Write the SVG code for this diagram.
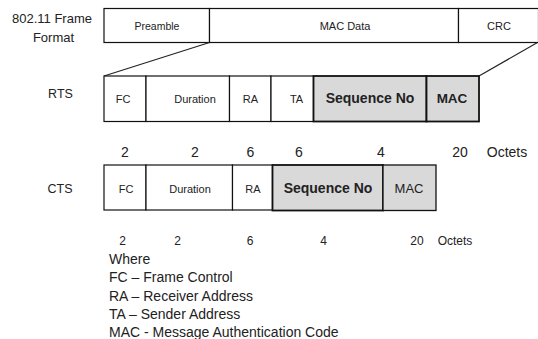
<svg xmlns="http://www.w3.org/2000/svg" width="538" height="339" viewBox="0 0 538 339">
<style>
text{font-family:"Liberation Sans",Arial,sans-serif;fill:#222;}
.c{text-anchor:middle;}
.cell{fill:#fff;stroke:#111;stroke-width:1.2;}
.sh{fill:#d9d9d9;stroke:#111;stroke-width:1.8;}
.hdr{font-size:10.5px;}
.f{font-size:11px;}
.b{font-size:14px;font-weight:bold;}
.lbl{font-size:12.5px;}
.n{font-size:14px;}
.ns{font-size:12px;}
.lg{font-size:14px;}
.ln{stroke:#222;stroke-width:1.1;fill:none;}
</style>
<g id="frame-label">
<text class="c" x="52" y="23" style="font-size:13px">802.11 Frame</text>
<text class="c" x="53.5" y="42" style="font-size:13px">Format</text>
</g>
<g id="frame">
<rect class="cell" x="104" y="8.5" width="105.5" height="34"/>
<rect class="cell" x="209.5" y="8.5" width="249" height="34"/>
<rect class="cell" x="458.5" y="8.5" width="80" height="34"/>
<text class="c hdr" x="157" y="30">Preamble</text>
<text class="c f" x="345" y="30">MAC Data</text>
<text class="c f" x="499" y="30">CRC</text>
</g>
<g id="connectors">
<line class="ln" x1="209.5" y1="42.5" x2="104" y2="76"/>
<line class="ln" x1="537.5" y1="42.5" x2="479" y2="76"/>
</g>
<g id="rts">
<text class="c lbl" x="60.5" y="98">RTS</text>
<rect class="cell" x="104" y="76" width="42" height="45.5"/>
<rect class="cell" x="146" y="76" width="83.5" height="45.5"/>
<rect class="cell" x="229.5" y="76" width="41.5" height="45.5"/>
<rect class="cell" x="271" y="76" width="42.5" height="45.5"/>
<rect class="sh" x="313.5" y="76" width="113" height="45.5"/>
<rect class="sh" x="426.5" y="76" width="52.5" height="45.5"/>
<text class="c f" x="123" y="103">FC</text>
<text class="c f" x="195" y="103">Duration</text>
<text class="c f" x="250.5" y="103">RA</text>
<text class="c f" x="296.5" y="103">TA</text>
<text class="c b" x="370" y="102.5">Sequence No</text>
<text class="c b" x="452" y="102.5" style="font-size:13.5px">MAC</text>
</g>
<g id="rts-octets">
<text class="c n" x="125" y="157">2</text>
<text class="c n" x="195" y="157">2</text>
<text class="c n" x="250.5" y="157">6</text>
<text class="c n" x="299" y="157">6</text>
<text class="c n" x="381" y="157">4</text>
<text class="c n" x="460" y="157">20</text>
<text class="c n" x="507" y="157">Octets</text>
</g>
<g id="cts">
<text class="c lbl" x="60" y="193">CTS</text>
<rect class="cell" x="104" y="165" width="42" height="45"/>
<rect class="cell" x="146" y="165" width="86.5" height="45"/>
<rect class="cell" x="232.5" y="165" width="40" height="45"/>
<rect class="sh" x="272.5" y="165" width="110.5" height="45.5"/>
<rect class="sh" x="383" y="165" width="53" height="45.5" style="stroke-width:1.3"/>
<text class="c f" x="126" y="193">FC</text>
<text class="c f" x="190" y="193">Duration</text>
<text class="c f" x="253" y="193">RA</text>
<text class="c b" x="328" y="193">Sequence No</text>
<text class="c" x="409" y="193" style="font-size:13px">MAC</text>
</g>
<g id="cts-octets">
<text class="c ns" x="122.5" y="245">2</text>
<text class="c ns" x="177.5" y="245">2</text>
<text class="c ns" x="250" y="245">6</text>
<text class="c ns" x="323.5" y="245">4</text>
<text class="c ns" x="417" y="245">20</text>
<text class="c ns" x="455" y="245">Octets</text>
</g>
<g id="legend">
<text class="lg" x="109" y="264">Where</text>
<text class="lg" x="109" y="282">FC – Frame Control</text>
<text class="lg" x="109" y="300.5">RA – Receiver Address</text>
<text class="lg" x="109" y="318.5">TA – Sender Address</text>
<text class="lg" x="109" y="336.5">MAC - Message Authentication Code</text>
</g>
</svg>
